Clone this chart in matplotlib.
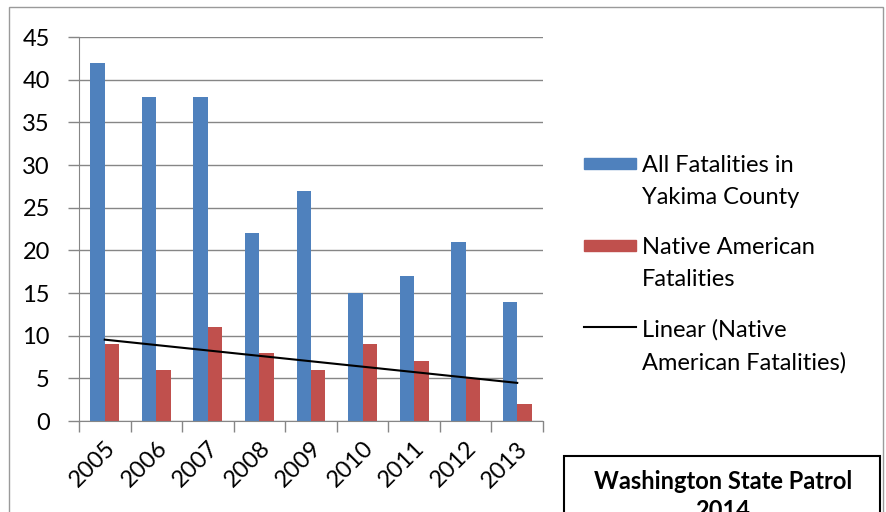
import numpy as np
import matplotlib.pyplot as plt
from matplotlib.patches import Rectangle
from matplotlib.lines import Line2D

plt.rcParams['font.family'] = ['Lato', 'DejaVu Sans']

years = ['2005', '2006', '2007', '2008', '2009', '2010', '2011', '2012', '2013']
all_fatal = [42, 38, 38, 22, 27, 15, 17, 21, 14]
native_fatal = [9, 6, 11, 8, 6, 9, 7, 5, 2]
series_names = ['All Fatalities in\nYakima County', 'Native American\nFatalities',
                'Linear (Native\nAmerican Fatalities)']

blue = '#4F81BD'
red = '#C0504D'
grid_col = '#868686'
fs = 17

W, H = 887, 512
fig = plt.figure(figsize=(W/100, H/100), dpi=100)
ax = fig.add_axes([79/W, 1-421/H, (543-79)/W, (421-37)/H])

x = np.arange(len(years))
w = 0.28
ax.bar(x - w/2, all_fatal, w, color=blue)
ax.bar(x + w/2, native_fatal, w, color=red)

# linear trendline on native american series
k, c = np.polyfit(x, native_fatal, 1)
ax.plot(x[[0, -1]], k*x[[0, -1]] + c, color='black', lw=1.5)

ax.set_xlim(-0.5, len(years) - 0.5)
ax.set_ylim(0, 45)
ax.set_yticks(range(0, 46, 5))
ax.yaxis.grid(True, color=grid_col, lw=1)
ax.set_axisbelow(True)
ax.set_xticks(x)
ax.set_xticklabels(years, rotation=45, ha='right', va='top', rotation_mode='anchor')
ax.set_xticks(np.arange(-0.5, len(years)), minor=True)
ax.tick_params(axis='x', which='major', length=0, pad=12, labelsize=fs)
ax.tick_params(axis='x', which='minor', length=8, color=grid_col, width=1)
ax.tick_params(axis='y', length=8, color=grid_col, width=1, labelsize=fs, pad=13)
for s in ['top', 'right']:
    ax.spines[s].set_visible(False)
for s in ['left', 'bottom']:
    ax.spines[s].set_color(grid_col)

# legend, drawn by hand so keys line up with the first text line
key_y = [163, 245, 327]
for i, name in enumerate(series_names):
    yy = 1 - key_y[i]/H
    if i < 2:
        fig.patches.append(Rectangle((584/W, yy - 5.5/H), 52/W, 11/H, transform=fig.transFigure,
                                     color=[blue, red][i]))
    else:
        fig.lines.append(Line2D([584/W, 636/W], [yy, yy], transform=fig.transFigure,
                                color='black', lw=1.5))
    fig.text(642/W, yy + 8/H, name, ha='left', va='top', fontsize=fs, linespacing=1.65)

# outer chart border
fig.patches.append(Rectangle((9/W, -0.1), (883-9)/W, 1.1 - 7/H, transform=fig.transFigure,
                             fill=False, edgecolor='#9a9a9a', lw=1))
# text box at bottom right (its second line is cut by the picture edge, as in the source)
fig.patches.append(Rectangle((564/W, -0.1), (880-564)/W, 0.1 + 1-456/H, transform=fig.transFigure,
                             facecolor='white', edgecolor='black', lw=1.5))
fig.text(723/W, 1-470/H, 'Washington State Patrol\n2014', ha='center', va='top',
         fontsize=fs, fontweight='bold', linespacing=1.3)

fig.savefig('out.png', dpi=100)
